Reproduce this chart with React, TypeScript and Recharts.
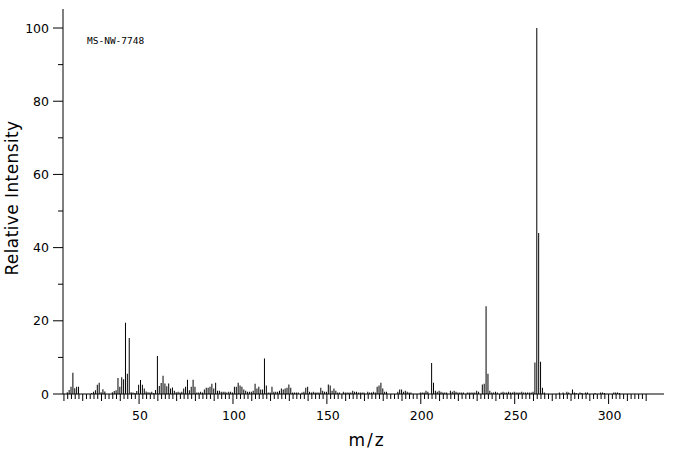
import React from 'react';
import { BarChart, Bar, XAxis, YAxis } from 'recharts';

// peak list: m/z and relative intensity (%)
const MZ = [
  12, 13, 14, 15, 16, 17, 18, 25, 26, 27, 28, 29, 30, 31, 32, 36, 37, 38, 39, 40,
  41, 42, 43, 44, 45, 46, 47, 48, 49, 50, 51, 52, 53, 54, 55, 56, 57, 58, 59, 60,
  61, 62, 63, 64, 65, 66, 67, 68, 69, 70, 71, 72, 73, 74, 75, 76, 77, 78, 79, 80,
  81, 82, 83, 84, 85, 86, 87, 88, 89, 90, 91, 92, 93, 94, 95, 96, 97, 98, 99, 100,
  101, 102, 103, 104, 105, 106, 107, 108, 109, 110, 111, 112, 113, 114, 115, 116, 117, 118, 119, 120,
  121, 122, 123, 124, 125, 126, 127, 128, 129, 130, 131, 132, 133, 134, 135, 137, 138, 139, 140, 141,
  142, 143, 144, 145, 146, 147, 148, 149, 150, 151, 152, 153, 154, 155, 156, 157, 159, 160, 161, 162,
  163, 164, 165, 166, 167, 168, 169, 170, 172, 173, 174, 175, 176, 177, 178, 179, 180, 181, 182, 188,
  189, 190, 191, 192, 193, 194, 195, 200, 201, 202, 203, 204, 206, 207, 208, 209, 210, 211, 212, 213,
  214, 216, 217, 218, 219, 220, 221, 222, 223, 225, 226, 227, 228, 229, 230, 231, 233, 234, 235, 236,
  237, 238, 239, 240, 241, 243, 244, 245, 246, 247, 248, 249, 250, 251, 252, 253, 254, 255, 256, 257,
  258, 259, 260, 261, 262, 263, 264, 265, 266, 274, 276, 278, 279, 281, 282, 283, 285, 286, 288, 289,
  293, 296, 297, 298, 303, 304, 305, 306,
];

const INTENSITY = [
  0.5, 1.1, 2.0, 5.8, 1.6, 2.0, 2.0, 0.3, 0.6, 1.0, 2.5, 3.1, 0.5, 1.3, 0.7, 0.5, 0.8, 1.0, 4.4, 2.0,
  4.6, 4.0, 19.5, 5.5, 15.3, 0.5, 0.4, 0.3, 0.8, 2.5, 3.8, 2.5, 1.5, 0.7, 0.5, 0.4, 0.6, 0.3, 1.1, 10.4,
  2.2, 3.0, 5.0, 2.9, 2.1, 2.9, 1.5, 1.8, 0.9, 0.5, 0.6, 0.4, 0.6, 1.5, 2.0, 3.9, 1.0, 2.0, 3.9, 2.0,
  0.4, 0.4, 0.6, 0.4, 1.2, 1.7, 1.7, 2.0, 2.8, 1.5, 3.1, 0.9, 0.9, 0.6, 0.6, 0.6, 0.4, 0.6, 0.6, 0.4,
  2.0, 2.0, 3.1, 2.3, 2.0, 1.2, 0.9, 0.6, 0.6, 0.6, 0.9, 2.8, 1.5, 2.0, 1.2, 1.2, 9.7, 2.3, 0.4, 0.4,
  2.0, 0.6, 0.6, 0.6, 0.9, 1.5, 1.2, 1.5, 1.7, 2.6, 1.7, 0.4, 0.4, 0.4, 0.4, 0.4, 0.6, 1.7, 2.0, 0.6,
  0.4, 0.6, 0.4, 0.4, 0.4, 1.7, 0.9, 0.6, 0.6, 2.6, 2.3, 0.9, 1.5, 0.9, 0.4, 0.4, 0.6, 0.4, 0.4, 0.4,
  0.4, 0.9, 0.6, 0.6, 0.4, 0.4, 0.4, 0.4, 0.6, 0.4, 0.4, 0.6, 0.4, 2.0, 2.3, 3.1, 1.5, 0.6, 0.6, 0.6,
  1.2, 1.2, 0.6, 0.9, 0.6, 0.4, 0.4, 0.4, 0.4, 0.4, 0.9, 0.6, 8.5, 3.1, 0.9, 0.6, 0.9, 0.6, 0.4, 0.4,
  0.4, 0.9, 0.6, 0.9, 0.6, 0.4, 0.4, 0.4, 0.4, 0.4, 0.4, 0.4, 0.4, 0.4, 0.9, 0.6, 2.6, 2.8, 24.0, 5.5,
  0.9, 0.4, 0.4, 0.6, 0.4, 0.4, 0.6, 0.4, 0.4, 0.6, 0.4, 0.4, 0.6, 0.4, 0.4, 0.4, 0.6, 0.4, 0.4, 0.4,
  0.4, 0.4, 0.6, 8.6, 100, 44.0, 8.8, 1.7, 0.4, 0.4, 0.4, 0.6, 0.4, 1.2, 0.4, 0.3, 0.4, 0.3, 0.4, 0.4,
  0.3, 0.4, 0.4, 0.3, 0.4, 0.4, 0.4, 0.3,
];

const X_LABELS = [50, 100, 150, 200, 250, 300];
const Y_TICKS = [0, 10, 20, 30, 40, 50, 60, 70, 80, 90, 100];
const Y_LABELS = [0, 20, 40, 60, 80, 100];
const TITLE = 'MS-NW-7748';

const data = MZ.map((mz, i) => ({ mz, intensity: INTENSITY[i] }));

// minor ticks every 2 m/z from 10 to 320
const xTicks: number[] = [];
for (let v = 10; v <= 320; v += 2) xTicks.push(v);

const FONT = '"DejaVu Sans", sans-serif';

const XTick = (props: any) => {
  const { x, y, payload } = props;
  const v = payload.value;
  const isLabel = X_LABELS.includes(v);
  const len = isLabel ? 10 : v % 10 === 0 ? 7 : 5;
  return (
    <g>
      <line x1={x} x2={x} y1={y} y2={y + len} stroke="#000" />
      {isLabel && (
        <text x={x + 1} y={y + 26} textAnchor="middle" fontSize={12.5} fontFamily={FONT} fill="#000">
          {v}
        </text>
      )}
    </g>
  );
};

const YTick = (props: any) => {
  const { x, y, payload } = props;
  const v = payload.value;
  const isLabel = Y_LABELS.includes(v);
  const len = isLabel ? 10 : 5;
  return (
    <g>
      <line x1={x - len} x2={x} y1={y} y2={y} stroke="#000" />
      {isLabel && (
        <text x={x - 14} y={y} dy="0.36em" textAnchor="end" fontSize={12.5} fontFamily={FONT} fill="#000">
          {v}
        </text>
      )}
    </g>
  );
};

export default function App() {
  return (
    <div style={{ position: 'absolute', left: 0, top: 0, width: 676, height: 455, background: '#fff' }}>
      <BarChart
        width={676}
        height={455}
        data={data}
        margin={{ top: 9, right: 12, left: 0, bottom: 0 }}
      >
        <XAxis
          type="number"
          dataKey="mz"
          domain={[9.5, 329.5]}
          allowDataOverflow
          ticks={xTicks}
          interval={0}
          tick={<XTick />}
          tickLine={false}
          tickSize={0}
          tickMargin={0}
          height={61}
          axisLine={{ stroke: '#000' }}
        />
        <XAxis
          xAxisId="top"
          orientation="top"
          type="number"
          dataKey="mz"
          domain={[9.5, 329.5]}
          allowDataOverflow
          tick={false}
          tickLine={false}
          height={0}
          axisLine={{ stroke: '#000' }}
        />
        <YAxis
          type="number"
          domain={[0, 105.2]}
          allowDataOverflow
          ticks={Y_TICKS}
          interval={0}
          tick={<YTick />}
          tickLine={false}
          tickSize={0}
          tickMargin={0}
          width={63}
          axisLine={{ stroke: '#000' }}
        />
        <YAxis
          yAxisId="right"
          orientation="right"
          type="number"
          domain={[0, 105.2]}
          tick={false}
          tickLine={false}
          width={0}
          axisLine={{ stroke: '#000' }}
        />
        <Bar dataKey="intensity" fill="#000" barSize={1} isAnimationActive={false} />
      </BarChart>
      <svg
        width={676}
        height={455}
        style={{ position: 'absolute', left: 0, top: 0, pointerEvents: 'none' }}
      >
        <text x={87} y={44} fontSize={9.5} fontFamily='"DejaVu Sans Mono", monospace' fill="#000">
          {TITLE}
        </text>
        <text
          x={12}
          y={198}
          transform="rotate(-90 12 198)"
          textAnchor="middle"
          dominantBaseline="central"
          fontSize={17}
          letterSpacing={0.4}
          fontFamily={FONT}
          fill="#000"
        >
          Relative Intensity
        </text>
        <text
          x={367}
          y={440}
          textAnchor="middle"
          dominantBaseline="central"
          fontSize={17}
          letterSpacing={2}
          fontFamily={FONT}
          fill="#000"
        >
          m/z
        </text>
      </svg>
    </div>
  );
}
